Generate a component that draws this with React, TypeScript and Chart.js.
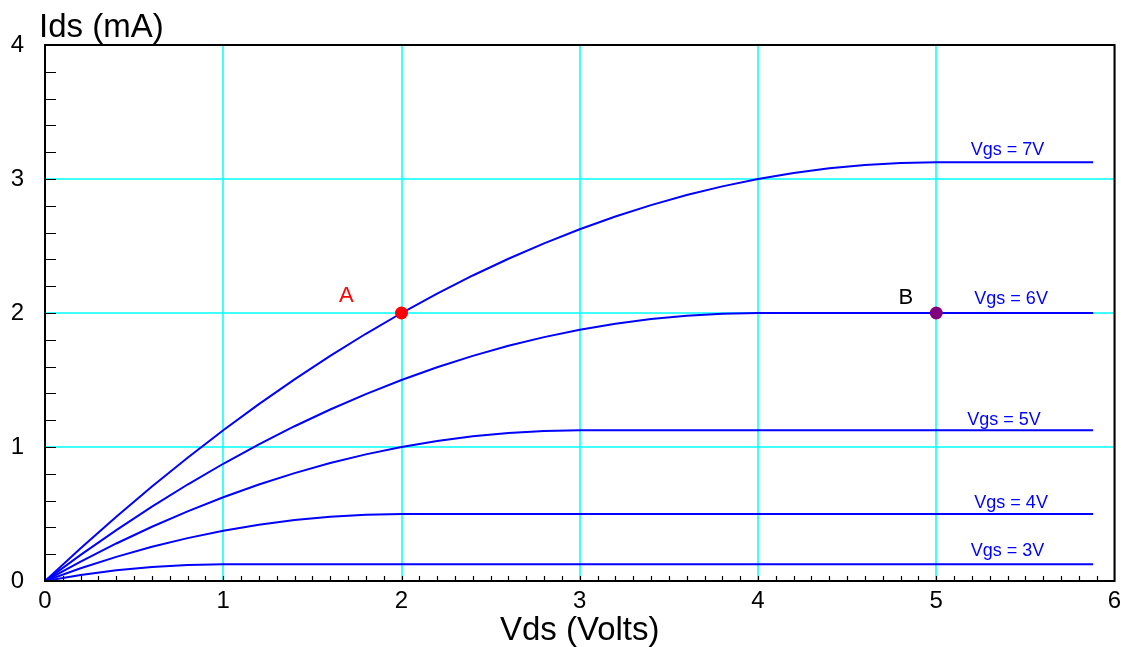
import React, { useEffect, useRef } from 'react';
import { Chart, registerables } from 'chart.js';

Chart.register(...registerables);

// Drain-source voltage (V) sample points
const vds = [
  0, 0.2, 0.4, 0.6, 0.8, 1.0, 1.2, 1.4, 1.6, 1.8, 2.0, 2.2, 2.4, 2.6, 2.8, 3.0,
  3.2, 3.4, 3.6, 3.8, 4.0, 4.2, 4.4, 4.6, 4.8, 5.0, 5.2, 5.4, 5.6, 5.8, 5.88,
];

// Drain current (mA)
const ids3 = [
  0, 0.045, 0.08, 0.105, 0.12, 0.125, 0.125, 0.125, 0.125, 0.125, 0.125, 0.125, 0.125, 0.125, 0.125, 0.125,
  0.125, 0.125, 0.125, 0.125, 0.125, 0.125, 0.125, 0.125, 0.125, 0.125, 0.125, 0.125, 0.125, 0.125, 0.125,
];
const ids4 = [
  0, 0.095, 0.18, 0.255, 0.32, 0.375, 0.42, 0.455, 0.48, 0.495, 0.5, 0.5, 0.5, 0.5, 0.5, 0.5,
  0.5, 0.5, 0.5, 0.5, 0.5, 0.5, 0.5, 0.5, 0.5, 0.5, 0.5, 0.5, 0.5, 0.5, 0.5,
];
const ids5 = [
  0, 0.145, 0.28, 0.405, 0.52, 0.625, 0.72, 0.805, 0.88, 0.945, 1.0, 1.045, 1.08, 1.105, 1.12, 1.125,
  1.125, 1.125, 1.125, 1.125, 1.125, 1.125, 1.125, 1.125, 1.125, 1.125, 1.125, 1.125, 1.125, 1.125, 1.125,
];
const ids6 = [
  0, 0.195, 0.38, 0.555, 0.72, 0.875, 1.02, 1.155, 1.28, 1.395, 1.5, 1.595, 1.68, 1.755, 1.82, 1.875,
  1.92, 1.955, 1.98, 1.995, 2.0, 2.0, 2.0, 2.0, 2.0, 2.0, 2.0, 2.0, 2.0, 2.0, 2.0,
];
const ids7 = [
  0, 0.245, 0.48, 0.705, 0.92, 1.125, 1.32, 1.505, 1.68, 1.845, 2.0, 2.145, 2.28, 2.405, 2.52, 2.625,
  2.72, 2.805, 2.88, 2.945, 3.0, 3.045, 3.08, 3.105, 3.12, 3.125, 3.125, 3.125, 3.125, 3.125, 3.125,
];

const curveLabels = ['Vgs = 3V', 'Vgs = 4V', 'Vgs = 5V', 'Vgs = 6V', 'Vgs = 7V'];
const curveLabelX = [5.4, 5.42, 5.38, 5.42, 5.4];

// Marked operating points
const pointNames = ['A', 'B'];
const pointX = [2, 5];
const pointY = [2, 2];
const pointLabelX = [1.69, 4.83];

const xTickLabels = ['0', '1', '2', '3', '4', '5', '6'];
const yTickLabels = ['0', '1', '2', '3', '4'];

const FONT = '"Liberation Sans", Arial, Helvetica, sans-serif';

export default function App() {
  const ref = useRef<HTMLCanvasElement | null>(null);

  useEffect(() => {
    if (!ref.current) return;
    const series = [ids3, ids4, ids5, ids6, ids7];
    const lineSets = series.map((s, k) => ({
      label: curveLabels[k],
      data: vds.map((x, i) => ({ x, y: s[i] })),
      borderColor: '#0000ff',
      borderWidth: 2,
      pointRadius: 0,
      fill: false,
      tension: 0,
      order: 2,
    }));
    const pointColors = ['#ff0000', '#800080'];
    const pointSets = pointNames.map((n, k) => ({
      label: n,
      data: [{ x: pointX[k], y: pointY[k] }],
      showLine: false,
      pointRadius: 6.5,
      pointHoverRadius: 6.5,
      pointBackgroundColor: pointColors[k],
      pointBorderColor: pointColors[k],
      pointBorderWidth: 0,
      borderColor: pointColors[k],
      order: 0,
    }));

    const decor = {
      id: 'decor',
      afterDraw(chart: any) {
        const { ctx, chartArea: a, scales } = chart;
        const xs = scales.x;
        const ys = scales.y;
        ctx.save();
        // minor ticks
        ctx.strokeStyle = '#000';
        ctx.lineWidth = 1.2;
        ctx.beginPath();
        for (let i = 1; i < 60; i++) {
          const px = Math.round(xs.getPixelForValue(i / 10)) + 0.5;
          ctx.moveTo(px, a.bottom);
          ctx.lineTo(px, a.bottom - 5);
        }
        for (let i = 1; i < 20; i++) {
          const py = Math.round(ys.getPixelForValue(i / 5)) + 0.5;
          ctx.moveTo(a.left, py);
          ctx.lineTo(a.left + 11, py);
        }
        ctx.stroke();
        // frame
        ctx.lineWidth = 2;
        ctx.strokeRect(a.left, a.top, a.right - a.left, a.bottom - a.top);
        // curve labels
        ctx.font = `18px ${FONT}`;
        ctx.fillStyle = '#0000ff';
        ctx.textAlign = 'center';
        ctx.textBaseline = 'alphabetic';
        const offs = [8, 6, 5, 9, 7];
        series.forEach((s, k) => {
          const px = xs.getPixelForValue(curveLabelX[k]);
          const py = ys.getPixelForValue(s[s.length - 1]) - offs[k];
          ctx.fillText(curveLabels[k], px, py);
        });
        // point labels
        ctx.font = `22px ${FONT}`;
        const pColors = ['#ff0000', '#000000'];
        const pOffs = [11, 9];
        pointNames.forEach((n, k) => {
          ctx.fillStyle = pColors[k];
          ctx.fillText(n, xs.getPixelForValue(pointLabelX[k]), ys.getPixelForValue(pointY[k]) - pOffs[k]);
        });
        // y title
        ctx.font = `33px ${FONT}`;
        ctx.fillStyle = '#000';
        ctx.textAlign = 'left';
        ctx.fillText('Ids (mA)', a.left - 6, 37);
        ctx.restore();
      },
    };

    const chart = new Chart(ref.current, {
      type: 'line',
      data: { datasets: [...pointSets, ...lineSets] as any },
      options: {
        responsive: true,
        maintainAspectRatio: false,
        animation: false,
        events: [],
        layout: { padding: { top: 45, right: 6, left: 0, bottom: 0 } },
        plugins: { legend: { display: false }, tooltip: { enabled: false }, title: { display: false } },
        scales: {
          x: {
            type: 'linear',
            min: 0,
            max: 6,
            ticks: {
              stepSize: 1,
              color: '#000',
              font: { size: 24, family: FONT },
              padding: 6,
              maxRotation: 0,
              callback: (v: any) => xTickLabels[Math.round(Number(v))] ?? '',
            },
            grid: { color: 'rgba(0,255,255,0.75)', lineWidth: 2, drawTicks: false },
            border: { display: false },
            title: {
              display: true,
              text: 'Vds (Volts)',
              color: '#000',
              font: { size: 33, family: FONT, lineHeight: 1.0 },
              padding: { top: 0, bottom: 0 },
            },
            afterFit: (s: any) => {
              s.height = 66;
              s.paddingLeft = 0;
              s.paddingRight = 0;
            },
          },
          y: {
            type: 'linear',
            min: 0,
            max: 4,
            ticks: {
              stepSize: 1,
              color: '#000',
              font: { size: 24, family: FONT },
              padding: 21,
              callback: (v: any) => yTickLabels[Math.round(Number(v))] ?? '',
            },
            grid: { color: 'rgba(0,255,255,0.75)', lineWidth: 2, drawTicks: false },
            border: { display: false },
            afterFit: (s: any) => {
              s.width = 45;
              s.paddingTop = 0;
              s.paddingBottom = 0;
            },
          },
        },
      },
      plugins: [decor],
    });
    return () => chart.destroy();
  }, []);

  return (
    <div style={{ position: 'absolute', left: 0, top: 0, width: 1121, height: 647, background: '#fff' }}>
      <canvas ref={ref} />
    </div>
  );
}
